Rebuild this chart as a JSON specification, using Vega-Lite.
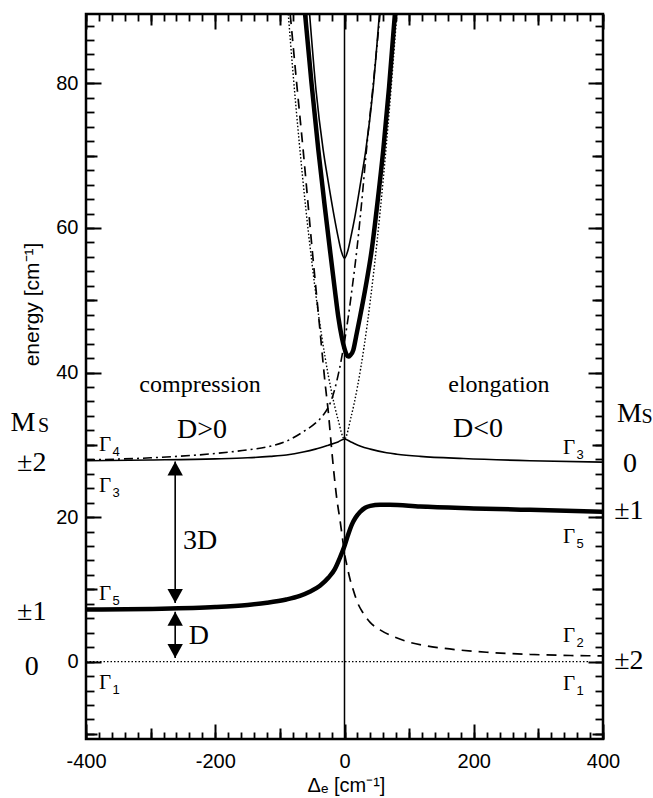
{
  "$schema": "https://vega.github.io/schema/vega-lite/v6.json",
  "width": 517,
  "height": 725,
  "autosize": {"type": "none"},
  "padding": {"left": 86, "top": 14, "right": 50, "bottom": 59},
  "background": "white",
  "config": {
    "view": {"stroke": "black", "strokeWidth": 2.5},
    "axis": {"domain": false, "grid": false, "tickColor": "black", "labelColor": "black", "titleColor": "black", "labelFont": "Liberation Sans", "titleFont": "Liberation Sans", "labelFontSize": 20, "titleFontWeight": "normal", "labelFlush": false, "labelOverlap": false}
  },
  "datasets": {
    "thinW": [
      {"x": -400, "y": 27.8}, {"x": -300, "y": 27.9}, {"x": -200, "y": 28.05}, {"x": -150, "y": 28.2}, {"x": -115, "y": 28.4}, {"x": -90, "y": 28.6}, {"x": -64, "y": 29.0}, {"x": -45, "y": 29.4}, {"x": -25, "y": 29.95}, {"x": -10, "y": 30.4}, {"x": 0, "y": 30.8}, {"x": 10, "y": 30.4}, {"x": 25, "y": 29.8}, {"x": 40, "y": 29.4}, {"x": 65, "y": 28.9}, {"x": 81, "y": 28.7}, {"x": 117, "y": 28.4}, {"x": 184, "y": 28.1}, {"x": 287, "y": 27.8}, {"x": 400, "y": 27.6}
    ],
    "thinV": [
      {"x": -54, "y": 89.6}, {"x": -44, "y": 79}, {"x": -33, "y": 70.8}, {"x": -25, "y": 66.3}, {"x": -15.8, "y": 61.5}, {"x": -10, "y": 58.8}, {"x": -5, "y": 56.8}, {"x": 0, "y": 55.8}, {"x": 5, "y": 56.8}, {"x": 10, "y": 58.8}, {"x": 16, "y": 61.5}, {"x": 25, "y": 66.3}, {"x": 33, "y": 70.8}, {"x": 44, "y": 79}, {"x": 54, "y": 89.6}
    ],
    "thickUp": [
      {"x": -61, "y": 89.6}, {"x": -51, "y": 80}, {"x": -40.5, "y": 70.8}, {"x": -31, "y": 63.3}, {"x": -22.4, "y": 56.9}, {"x": -15, "y": 51.5}, {"x": -9.6, "y": 47.7}, {"x": -4, "y": 44.8}, {"x": 0, "y": 43.3}, {"x": 3, "y": 42.5}, {"x": 5.9, "y": 42.2}, {"x": 9, "y": 42.4}, {"x": 13.6, "y": 43.1}, {"x": 18, "y": 45}, {"x": 24, "y": 47.7}, {"x": 33, "y": 52}, {"x": 42, "y": 56.9}, {"x": 51, "y": 63.5}, {"x": 60, "y": 70.8}, {"x": 69, "y": 79.5}, {"x": 78, "y": 89.6}
    ],
    "thickLow": [
      {"x": -400, "y": 7.2}, {"x": -300, "y": 7.3}, {"x": -200, "y": 7.55}, {"x": -150, "y": 7.85}, {"x": -120, "y": 8.15}, {"x": -90, "y": 8.6}, {"x": -69, "y": 9.1}, {"x": -53, "y": 9.7}, {"x": -38, "y": 10.5}, {"x": -25, "y": 11.6}, {"x": -15, "y": 12.8}, {"x": -7, "y": 14.4}, {"x": 0, "y": 16.0}, {"x": 5, "y": 17.4}, {"x": 11, "y": 18.9}, {"x": 17, "y": 19.9}, {"x": 24, "y": 20.7}, {"x": 32, "y": 21.3}, {"x": 40, "y": 21.55}, {"x": 55, "y": 21.7}, {"x": 70, "y": 21.7}, {"x": 117, "y": 21.45}, {"x": 200, "y": 21.2}, {"x": 287, "y": 21.0}, {"x": 400, "y": 20.75}
    ],
    "dashdot": [
      {"x": -400, "y": 27.9}, {"x": -300, "y": 28.2}, {"x": -200, "y": 28.8}, {"x": -150, "y": 29.3}, {"x": -115, "y": 29.8}, {"x": -90, "y": 30.5}, {"x": -64, "y": 31.8}, {"x": -45, "y": 33.0}, {"x": -33, "y": 34.1}, {"x": -25, "y": 35.2}, {"x": -18, "y": 36.8}, {"x": -12, "y": 38.8}, {"x": -6, "y": 41.3}, {"x": 0, "y": 44.3}, {"x": 6, "y": 47.8}, {"x": 12, "y": 51.8}, {"x": 19, "y": 56.9}, {"x": 26, "y": 63}, {"x": 34, "y": 70.8}, {"x": 44, "y": 79.5}, {"x": 55, "y": 89.6}
    ],
    "dashed": [
      {"x": -84, "y": 89.6}, {"x": -74, "y": 80}, {"x": -64, "y": 70.8}, {"x": -50, "y": 57}, {"x": -38, "y": 45.9}, {"x": -30, "y": 38.5}, {"x": -25, "y": 34.5}, {"x": -20, "y": 29.5}, {"x": -16, "y": 25.8}, {"x": -12, "y": 22.6}, {"x": -7, "y": 19.6}, {"x": -3, "y": 17}, {"x": 0, "y": 15}, {"x": 4, "y": 13.2}, {"x": 8, "y": 11.6}, {"x": 13.6, "y": 9.9}, {"x": 20, "y": 8.2}, {"x": 29, "y": 6.7}, {"x": 40, "y": 5.4}, {"x": 55, "y": 4.4}, {"x": 75, "y": 3.5}, {"x": 96, "y": 2.8}, {"x": 125, "y": 2.2}, {"x": 153, "y": 1.85}, {"x": 220, "y": 1.3}, {"x": 287, "y": 1.0}, {"x": 350, "y": 0.85}, {"x": 400, "y": 0.8}
    ],
    "dotV": [
      {"x": -87, "y": 89.6}, {"x": -80, "y": 81.8}, {"x": -70, "y": 71.8}, {"x": -60, "y": 62.8}, {"x": -50, "y": 54.9}, {"x": -40, "y": 47.9}, {"x": -30, "y": 42.1}, {"x": -20, "y": 37.3}, {"x": -10, "y": 33.5}, {"x": 0, "y": 30.8}, {"x": 10, "y": 33.8}, {"x": 20, "y": 38.0}, {"x": 30, "y": 43.4}, {"x": 40, "y": 50.0}, {"x": 50, "y": 57.8}, {"x": 60, "y": 66.8}, {"x": 70, "y": 77.0}, {"x": 81, "y": 89.6}
    ],
    "dotH": [{"x": -400, "y": 0}, {"x": 378, "y": 0}],
    "vline": [{"x": 0}],
    "arrows": [{"x": -262, "y": 27.7, "y2": 8.1}, {"x": -262, "y": 6.9, "y2": 0.5}],
    "headsUp": [{"x": -262, "y": 27.7}, {"x": -262, "y": 6.9}],
    "headsDown": [{"x": -262, "y": 8.1}, {"x": -262, "y": 0.5}],
    "words": [
      {"x": -223.6, "y": 38.3, "t": "compression"},
      {"x": 239, "y": 38.3, "t": "elongation"}
    ],
    "bigText": [
      {"x": -220.6, "y": 32.0, "t": "D>0"},
      {"x": 206.6, "y": 32.2, "t": "D<0"},
      {"x": -223.6, "y": 16.7, "t": "3D"},
      {"x": -225.5, "y": 3.5, "t": "D"},
      {"x": -484, "y": 27.5, "t": "±2"},
      {"x": -484, "y": 6.9, "t": "±1"},
      {"x": -484, "y": -0.7, "t": "0"},
      {"x": 441.8, "y": 27.3, "t": "0"},
      {"x": 440, "y": 20.8, "t": "±1"},
      {"x": 440, "y": 0.1, "t": "±2"},
      {"x": -497.7, "y": 33.0, "t": "M"},
      {"x": 441, "y": 34.3, "t": "M"}
    ],
    "smallS": [
      {"x": -465.8, "y": 32.6, "t": "S"},
      {"x": 468, "y": 33.9, "t": "S"}
    ],
    "gammas": [
      {"x": -370.6, "y": 30.0, "sub": "4"},
      {"x": -370.6, "y": 24.3, "sub": "3"},
      {"x": -370.6, "y": 9.4, "sub": "5"},
      {"x": -370.6, "y": -3.0, "sub": "1"},
      {"x": 347.5, "y": 29.6, "sub": "3"},
      {"x": 347.5, "y": 17.2, "sub": "5"},
      {"x": 347.5, "y": 3.6, "sub": "2"},
      {"x": 347.5, "y": -3.1, "sub": "1"}
    ]
  },
  "resolve": {"axis": {"x": "independent", "y": "independent"}},
  "layer": [
    {
      "data": {"name": "thinW"},
      "mark": {"type": "line", "stroke": "black", "strokeWidth": 1.6, "clip": true, "interpolate": "monotone"},
      "encoding": {
        "x": {"field": "x", "type": "quantitative", "scale": {"domain": [-400, 400], "nice": false, "zero": false},
          "axis": {"orient": "bottom", "values": [-400, -200, 0, 200, 400], "tickSize": -15, "tickWidth": 2, "labelPadding": 27, "labelExpr": "datum.value < 0 ? '-' + (-datum.value) : '' + datum.value", "title": "Δₑ [cm⁻¹]", "titleFontSize": 20, "titleX": 260, "titleY": 46, "titleBaseline": "middle"}},
        "y": {"field": "y", "type": "quantitative", "scale": {"domain": [-10.7, 89.6], "nice": false, "zero": false},
          "axis": {"orient": "left", "values": [0, 20, 40, 60, 80], "tickSize": -15, "tickWidth": 2, "labelPadding": 23, "title": "energy [cm⁻¹]", "titleFontSize": 21, "titleX": -54, "titleY": 290, "titleBaseline": "middle", "titleAngle": -90}}
      }
    },
    {
      "data": {"name": "dashed"},
      "mark": {"type": "line", "stroke": "black", "strokeWidth": 1.7, "strokeDash": [10, 7], "clip": true, "interpolate": "monotone"},
      "encoding": {
        "x": {"field": "x", "type": "quantitative", "scale": {"domain": [-400, 400], "nice": false, "zero": false},
          "axis": {"orient": "bottom", "values": [-300, -100, 100, 300], "tickSize": -11, "tickWidth": 2, "labels": false, "title": null}},
        "y": {"field": "y", "type": "quantitative", "scale": {"domain": [-10.7, 89.6], "nice": false, "zero": false},
          "axis": {"orient": "left", "values": [-10, 10, 30, 50, 70], "tickSize": -11, "tickWidth": 2, "labels": false, "title": null}}
      }
    },
    {
      "data": {"name": "dotV"},
      "mark": {"type": "line", "stroke": "black", "strokeWidth": 1.4, "strokeDash": [1.5, 2], "clip": true, "interpolate": "monotone"},
      "encoding": {
        "x": {"field": "x", "type": "quantitative", "scale": {"domain": [-400, 400], "nice": false, "zero": false},
          "axis": {"orient": "bottom", "values": [-400, -380, -360, -340, -320, -300, -280, -260, -240, -220, -200, -180, -160, -140, -120, -100, -80, -60, -40, -20, 0, 20, 40, 60, 80, 100, 120, 140, 160, 180, 200, 220, 240, 260, 280, 300, 320, 340, 360, 380, 400], "tickSize": -7, "tickWidth": 1.8, "labels": false, "title": null}},
        "y": {"field": "y", "type": "quantitative", "scale": {"domain": [-10.7, 89.6], "nice": false, "zero": false},
          "axis": {"orient": "left", "values": [-10, -8, -6, -4, -2, 0, 2, 4, 6, 8, 10, 12, 14, 16, 18, 20, 22, 24, 26, 28, 30, 32, 34, 36, 38, 40, 42, 44, 46, 48, 50, 52, 54, 56, 58, 60, 62, 64, 66, 68, 70, 72, 74, 76, 78, 80, 82, 84, 86, 88], "tickSize": -8, "tickWidth": 1.8, "labels": false, "title": null}}
      }
    },
    {
      "data": {"name": "dashdot"},
      "mark": {"type": "line", "stroke": "black", "strokeWidth": 1.6, "strokeDash": [9, 4, 2, 4], "clip": true, "interpolate": "monotone"},
      "encoding": {
        "x": {"field": "x", "type": "quantitative", "scale": {"domain": [-400, 400], "nice": false, "zero": false},
          "axis": {"orient": "top", "values": [-400, -200, 0, 200, 400], "tickSize": -15, "tickWidth": 2, "labels": false, "title": null}},
        "y": {"field": "y", "type": "quantitative", "scale": {"domain": [-10.7, 89.6], "nice": false, "zero": false},
          "axis": {"orient": "right", "values": [0, 20, 40, 60, 80], "tickSize": -15, "tickWidth": 2, "labels": false, "title": null}}
      }
    },
    {
      "data": {"name": "thickUp"},
      "mark": {"type": "line", "stroke": "black", "strokeWidth": 4.5, "clip": true, "interpolate": "monotone"},
      "encoding": {
        "x": {"field": "x", "type": "quantitative", "scale": {"domain": [-400, 400], "nice": false, "zero": false},
          "axis": {"orient": "top", "values": [-300, -100, 100, 300], "tickSize": -11, "tickWidth": 2, "labels": false, "title": null}},
        "y": {"field": "y", "type": "quantitative", "scale": {"domain": [-10.7, 89.6], "nice": false, "zero": false},
          "axis": {"orient": "right", "values": [-10, 10, 30, 50, 70], "tickSize": -11, "tickWidth": 2, "labels": false, "title": null}}
      }
    },
    {
      "data": {"name": "thickLow"},
      "mark": {"type": "line", "stroke": "black", "strokeWidth": 4.5, "clip": true, "interpolate": "monotone"},
      "encoding": {
        "x": {"field": "x", "type": "quantitative", "scale": {"domain": [-400, 400], "nice": false, "zero": false},
          "axis": {"orient": "top", "values": [-400, -380, -360, -340, -320, -300, -280, -260, -240, -220, -200, -180, -160, -140, -120, -100, -80, -60, -40, -20, 0, 20, 40, 60, 80, 100, 120, 140, 160, 180, 200, 220, 240, 260, 280, 300, 320, 340, 360, 380, 400], "tickSize": -7, "tickWidth": 1.8, "labels": false, "title": null}},
        "y": {"field": "y", "type": "quantitative", "scale": {"domain": [-10.7, 89.6], "nice": false, "zero": false},
          "axis": {"orient": "right", "values": [-10, -8, -6, -4, -2, 0, 2, 4, 6, 8, 10, 12, 14, 16, 18, 20, 22, 24, 26, 28, 30, 32, 34, 36, 38, 40, 42, 44, 46, 48, 50, 52, 54, 56, 58, 60, 62, 64, 66, 68, 70, 72, 74, 76, 78, 80, 82, 84, 86, 88], "tickSize": -8, "tickWidth": 1.8, "labels": false, "title": null}}
      }
    },
    {
      "data": {"name": "thinV"},
      "mark": {"type": "line", "stroke": "black", "strokeWidth": 1.6, "clip": true, "interpolate": "monotone"},
      "encoding": {
        "x": {"field": "x", "type": "quantitative", "axis": null},
        "y": {"field": "y", "type": "quantitative", "axis": null}
      }
    },
    {
      "data": {"name": "dotH"},
      "mark": {"type": "line", "stroke": "black", "strokeWidth": 1.4, "strokeDash": [1.5, 2], "clip": true},
      "encoding": {
        "x": {"field": "x", "type": "quantitative", "axis": null},
        "y": {"field": "y", "type": "quantitative", "axis": null}
      }
    },
    {
      "data": {"name": "vline"},
      "mark": {"type": "rule", "stroke": "black", "strokeWidth": 1.5},
      "encoding": {
        "x": {"field": "x", "type": "quantitative", "axis": null}
      }
    },
    {
      "data": {"name": "arrows"},
      "mark": {"type": "rule", "stroke": "black", "strokeWidth": 1.6},
      "encoding": {
        "x": {"field": "x", "type": "quantitative", "axis": null},
        "y": {"field": "y", "type": "quantitative", "axis": null},
        "y2": {"field": "y2"}
      }
    },
    {
      "data": {"name": "headsUp"},
      "mark": {"type": "point", "shape": "M0,0 L-0.55,1 L0.55,1 Z", "size": 784, "filled": true, "fill": "black", "strokeWidth": 0, "opacity": 1},
      "encoding": {
        "x": {"field": "x", "type": "quantitative", "axis": null},
        "y": {"field": "y", "type": "quantitative", "axis": null}
      }
    },
    {
      "data": {"name": "headsDown"},
      "mark": {"type": "point", "shape": "M0,0 L-0.55,-1 L0.55,-1 Z", "size": 784, "filled": true, "fill": "black", "strokeWidth": 0, "opacity": 1},
      "encoding": {
        "x": {"field": "x", "type": "quantitative", "axis": null},
        "y": {"field": "y", "type": "quantitative", "axis": null}
      }
    },
    {
      "data": {"name": "words"},
      "mark": {"type": "text", "font": "Liberation Serif", "fontSize": 24, "align": "center", "baseline": "middle", "fill": "black"},
      "encoding": {
        "x": {"field": "x", "type": "quantitative", "axis": null},
        "y": {"field": "y", "type": "quantitative", "axis": null},
        "text": {"field": "t"}
      }
    },
    {
      "data": {"name": "bigText"},
      "mark": {"type": "text", "font": "Liberation Serif", "fontSize": 28, "align": "center", "baseline": "middle", "fill": "black"},
      "encoding": {
        "x": {"field": "x", "type": "quantitative", "axis": null},
        "y": {"field": "y", "type": "quantitative", "axis": null},
        "text": {"field": "t"}
      }
    },
    {
      "data": {"name": "smallS"},
      "mark": {"type": "text", "font": "Liberation Serif", "fontSize": 20, "align": "center", "baseline": "middle", "fill": "black"},
      "encoding": {
        "x": {"field": "x", "type": "quantitative", "axis": null},
        "y": {"field": "y", "type": "quantitative", "axis": null},
        "text": {"field": "t"}
      }
    },
    {
      "data": {"name": "gammas"},
      "mark": {"type": "text", "font": "Liberation Serif", "fontSize": 21, "align": "center", "baseline": "middle", "fill": "black"},
      "encoding": {
        "x": {"field": "x", "type": "quantitative", "axis": null},
        "y": {"field": "y", "type": "quantitative", "axis": null},
        "text": {"value": "Γ"}
      }
    },
    {
      "data": {"name": "gammas"},
      "mark": {"type": "text", "font": "Liberation Sans", "fontSize": 13, "align": "center", "baseline": "middle", "dx": 11, "dy": 7, "fill": "black"},
      "encoding": {
        "x": {"field": "x", "type": "quantitative", "axis": null},
        "y": {"field": "y", "type": "quantitative", "axis": null},
        "text": {"field": "sub"}
      }
    }
  ]
}
